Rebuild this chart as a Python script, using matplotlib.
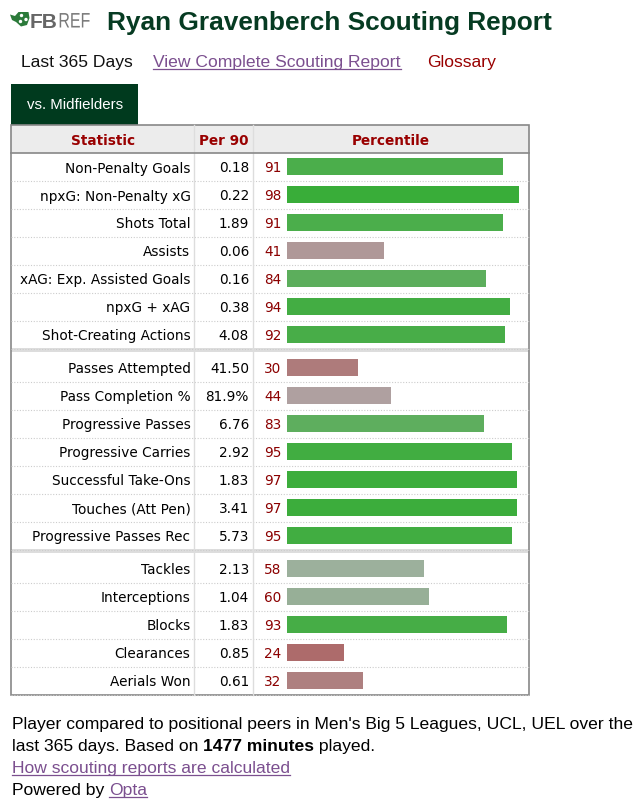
import numpy as np
import matplotlib
matplotlib.use('Agg')
import matplotlib.pyplot as plt
from matplotlib.patches import Rectangle, Polygon, Circle, PathPatch
from matplotlib.textpath import TextPath
from matplotlib.font_manager import FontProperties
from matplotlib.transforms import Affine2D

player = 'Ryan Gravenberch'
tab_label = 'vs. Midfielders'

stats_1 = ['Non-Penalty Goals', 'npxG: Non-Penalty xG', 'Shots Total', 'Assists',
           'xAG: Exp. Assisted Goals', 'npxG + xAG', 'Shot-Creating Actions']
per90_1 = ['0.18', '0.22', '1.89', '0.06', '0.16', '0.38', '4.08']
pct_1 = [91, 98, 91, 41, 84, 94, 92]

stats_2 = ['Passes Attempted', 'Pass Completion %', 'Progressive Passes', 'Progressive Carries',
           'Successful Take-Ons', 'Touches (Att Pen)', 'Progressive Passes Rec']
per90_2 = ['41.50', '81.9%', '6.76', '2.92', '1.83', '3.41', '5.73']
pct_2 = [30, 44, 83, 95, 97, 97, 95]

stats_3 = ['Tackles', 'Interceptions', 'Blocks', 'Clearances', 'Aerials Won']
per90_3 = ['2.13', '1.04', '1.83', '0.85', '0.61']
pct_3 = [58, 60, 93, 24, 32]

groups = [(stats_1, per90_1, pct_1), (stats_2, per90_2, pct_2), (stats_3, per90_3, pct_3)]

W, H = 643, 804
PX = 72 / 100.0  # pixels -> points at dpi 100

GREEN_DARK = '#063b22'
RED = '#990000'
LINK = '#7b4f8f'
TS = 13.65  # table font size, px


def bar_color(p):
    # grey at 50, green above, red below
    if p >= 50:
        r = 176 - 2.47 * (p - 50)
        g = 176 - 0.06 * (p - 50)
        return (r / 255, g / 255, r / 255)
    r = 176 - 0.12 * (50 - p)
    g = 176 - 2.65 * (50 - p)
    return (r / 255, g / 255, g / 255)


fig = plt.figure(figsize=(W / 100, H / 100), dpi=100)
ax = fig.add_axes([0, 0, 1, 1])
ax.set_xlim(0, W)
ax.set_ylim(H, 0)
ax.axis('off')

sans = ['Liberation Sans', 'DejaVu Sans']
verd = ['DejaVu Sans']
renderer = fig.canvas.get_renderer()


def put(x, y, s, size, **kw):
    kw.setdefault('family', sans)
    t = ax.text(x, y, s, fontsize=size * PX, va='baseline', **kw)
    return t


def width(t):
    return t.get_window_extent(renderer).width


def underline(t, y, color):
    bb = t.get_window_extent(renderer)
    ax.plot([bb.x0, bb.x1], [y + 2.5, y + 2.5], color=color, lw=0.9)


# logo
ax.add_patch(Polygon([[10, 15.5], [15, 17], [18.5, 13], [28.5, 13], [29.5, 19], [27, 26],
                      [21, 27.5], [16, 23], [12, 21]],
                     closed=True, color='#2b7a3a', lw=0))
for cx, cy in [(21.5, 16.5), (26, 20.5), (20.5, 22.5)]:
    ax.add_patch(Circle((cx, cy), 1.7, color='white', lw=0))
t = put(30, 28.5, 'FB', 21, color='#666666', fontweight='bold')
ref = TextPath((0, 0), 'REF', size=21, prop=FontProperties(family='Liberation Sans'))
tr = Affine2D().scale(0.76, -1).translate(30 + width(t) + 0.5, 28.5) + ax.transData
ax.add_patch(PathPatch(ref, transform=tr, color='#7a7a7a', lw=0))

# title
put(107, 30, player + ' Scouting Report', 26.25, color=GREEN_DARK, fontweight='bold')

# sub links
put(21, 67, 'Last 365 Days', 17.5, color='#111111')
t = put(153, 67, 'View Complete Scouting Report', 17.5, color=LINK)
underline(t, 67, LINK)
put(427, 67, 'Glossary', 17.5, color=RED)

# tab
ax.add_patch(Rectangle((11, 85), 127, 41, color='#003a1e', lw=0))
ax.text(75.5, 105, tab_label, fontsize=15 * PX, family=sans, color='white',
        ha='center', va='center')

# table geometry
left, right = 11, 528.5
col1, col2 = 194, 253
top, head_bot = 126, 153.5
row_h = 28
band = 5

ax.add_patch(Rectangle((left, top), right - left, head_bot - top, facecolor='#ececec', lw=0))
ax.text(103, 145, 'Statistic', fontsize=TS * PX, family=verd,
        fontweight='bold', color=RED, ha='center', va='baseline')
ax.text((col1 + col2) / 2, 145, 'Per 90', fontsize=TS * PX, family=verd,
        fontweight='bold', color=RED, ha='center', va='baseline')
ax.text((col2 + right) / 2, 145, 'Percentile', fontsize=TS * PX, family=verd,
        fontweight='bold', color=RED, ha='center', va='baseline')

bar_ax = fig.add_axes([287 / W, 0, 237 / W, 1])
bar_ax.set_xlim(0, 100)
bar_ax.set_ylim(H, 0)
bar_ax.axis('off')

y = head_bot
for gi, (names, vals, pcts) in enumerate(groups):
    centers = y + row_h / 2 + row_h * np.arange(len(names))
    for c, name, v, p in zip(centers, names, vals, pcts):
        ax.text(190.5, c + 5, name, fontsize=TS * PX, family=verd, color='#000000',
                ha='right', va='baseline')
        ax.text(249, c + 5, v, fontsize=TS * PX, family=verd, color='#000000',
                ha='right', va='baseline')
        ax.text(281.5, c + 5, str(p), fontsize=TS * PX, family=verd, color='#8b0000',
                ha='right', va='baseline')
        ax.plot([left, right], [c + row_h / 2, c + row_h / 2], color='#cccccc',
                lw=0.8, linestyle=(0, (1, 1.5)))
    bar_ax.barh(centers, pcts, height=17, left=0, color=[bar_color(p) for p in pcts])
    y += row_h * len(names)
    if gi < len(groups) - 1:
        ax.add_patch(Rectangle((left, y - 1), right - left, band - 0.5,
                               facecolor='#dddddd', lw=0))
        y += band
bottom = y

# column lines and borders
ax.plot([col1, col1], [top, bottom], color='#dddddd', lw=1)
ax.plot([col2, col2], [top, bottom], color='#dddddd', lw=1)
ax.plot([left, right], [head_bot, head_bot], color='#888888', lw=1.2)
ax.add_patch(Rectangle((left, top), right - left, bottom - top, fill=False,
                       edgecolor='#888888', lw=1.2))

# footer
FS = 17.45
put(12, 729, "Player compared to positional peers in Men's Big 5 Leagues, UCL, UEL over the",
    FS, color='#000000')
t = put(12, 751, 'last 365 days. Based on ', FS, color='#000000')
x = 12 + width(t)
t = put(x, 751, '1477 minutes', FS, color='#000000', fontweight='bold')
x += width(t)
put(x, 751, ' played.', FS, color='#000000')
t = put(12, 773, 'How scouting reports are calculated', FS, color=LINK)
underline(t, 773, LINK)
t = put(12, 795, 'Powered by ', FS, color='#000000')
t2 = put(12 + width(t), 795, 'Opta', FS, color=LINK)
underline(t2, 795, LINK)

fig.savefig('out.png', dpi=100)
